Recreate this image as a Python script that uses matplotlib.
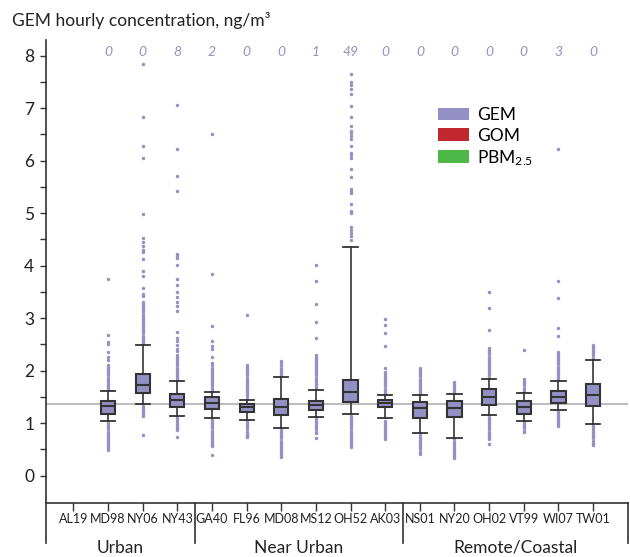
import matplotlib
matplotlib.use("Agg")
import matplotlib.pyplot as plt
from matplotlib.patches import Patch

plt.rcParams["font.family"] = ["Lato", "DejaVu Sans"]
plt.rcParams["mathtext.default"] = "regular"

stations = ["AL19", "MD98", "NY06", "NY43", "GA40", "FL96", "MD08", "MS12",
            "OH52", "AK03", "NS01", "NY20", "OH02", "VT99", "WI07", "TW01"]
groups = ["Urban", "Near Urban", "Remote/Coastal"]
group_sizes = [4, 6, 6]

# box statistics per station (AL19 has no data)
whislo = [None, 1.04, 1.37, 1.14, 1.10, 1.07, 0.90, 1.11, 1.17, 1.09, 0.81, 0.72, 1.16, 1.05, 1.25, 0.98]
q1 = [None, 1.18, 1.58, 1.31, 1.27, 1.21, 1.15, 1.25, 1.40, 1.31, 1.10, 1.12, 1.35, 1.18, 1.38, 1.32]
med = [None, 1.33, 1.72, 1.45, 1.38, 1.31, 1.31, 1.34, 1.60, 1.38, 1.28, 1.28, 1.50, 1.31, 1.50, 1.53]
q3 = [None, 1.43, 1.94, 1.56, 1.49, 1.37, 1.47, 1.42, 1.83, 1.45, 1.40, 1.42, 1.65, 1.43, 1.61, 1.75]
whishi = [None, 1.61, 2.49, 1.81, 1.60, 1.45, 1.88, 1.64, 4.36, 1.53, 1.53, 1.56, 1.84, 1.58, 1.81, 2.21]

# number of hourly values above the 8 ng/m3 plot limit
above_8 = [None, 0, 0, 8, 2, 0, 0, 1, 49, 0, 0, 0, 0, 0, 3, 0]

reference_level = 1.37

# outliers
out_MD98 = [3.75, 2.68, 2.55, 2.50, 2.36, 2.27, 2.20, 2.11, 2.07, 2.03, 1.99, 1.95, 1.91,
            1.87, 1.83, 1.79, 1.75, 1.71, 1.67, 1.63,
            1.00, 0.96, 0.92, 0.88, 0.84, 0.80, 0.76, 0.72, 0.68, 0.64, 0.60, 0.56, 0.52, 0.48]
out_NY06 = [7.85, 6.83, 6.28, 6.05, 4.98, 4.52, 4.46, 4.38, 4.29, 4.26, 4.12, 3.89, 3.80,
            3.58, 3.47, 3.42, 3.31, 3.27, 3.23, 3.19, 3.15, 3.11, 3.07, 3.03, 2.99, 2.95,
            2.91, 2.87, 2.83, 2.79, 2.75, 2.71, 2.67, 2.63, 2.59, 2.55, 2.52,
            1.33, 1.29, 1.25, 1.21, 1.17, 1.13, 0.78]
out_NY43 = [7.07, 6.22, 5.70, 5.42, 4.23, 4.18, 4.14, 4.01, 3.74, 3.63, 3.50, 3.40, 3.30,
            3.23, 3.14, 2.73, 2.63, 2.57, 2.49, 2.42, 2.37, 2.30, 2.26, 2.22, 2.18, 2.14,
            2.10, 2.06, 2.02, 1.98, 1.94, 1.90, 1.86, 1.83,
            1.10, 1.06, 1.02, 0.98, 0.94, 0.90, 0.87, 0.74]
out_GA40 = [6.50, 3.84, 2.85, 2.57, 2.48, 2.41, 2.26, 2.14, 2.10, 2.06, 2.02, 1.98, 1.94,
            1.90, 1.86, 1.82, 1.78, 1.74, 1.70, 1.66, 1.62,
            1.06, 1.02, 0.98, 0.94, 0.90, 0.86, 0.82, 0.78, 0.74, 0.70, 0.66, 0.62, 0.58,
            0.56, 0.39]
out_FL96 = [3.07, 2.11, 2.07, 2.03, 1.99, 1.95, 1.91, 1.87, 1.83, 1.79, 1.75, 1.71, 1.67,
            1.63, 1.59, 1.55, 1.51, 1.47,
            1.04, 1.00, 0.96, 0.92, 0.88, 0.84, 0.80, 0.76, 0.73]
out_MD08 = [2.18, 2.14, 2.10, 2.06, 2.02, 1.98, 1.94, 1.90,
            0.87, 0.83, 0.79, 0.75, 0.71, 0.67, 0.63, 0.59, 0.55, 0.51, 0.47, 0.43, 0.39, 0.36]
out_MS12 = [4.01, 3.70, 3.27, 2.92, 2.62, 2.30, 2.27, 2.23, 2.19, 2.15, 2.11, 2.07, 2.03,
            1.99, 1.95, 1.91, 1.87, 1.83, 1.79, 1.75, 1.71, 1.67,
            1.08, 1.04, 1.00, 0.96, 0.92, 0.88, 0.84, 0.81, 0.72]
out_OH52 = [7.65, 7.50, 7.44, 7.37, 7.28, 7.04, 6.84, 6.67, 6.57, 6.52, 6.47, 6.42, 6.29,
            6.14, 6.10, 6.06, 5.84, 5.69, 5.47, 5.43, 5.39, 5.18, 5.04, 5.00, 4.73, 4.68,
            4.62, 4.57, 4.49,
            1.14, 1.10, 1.06, 1.02, 0.98, 0.94, 0.90, 0.86, 0.82, 0.78, 0.74, 0.70, 0.66,
            0.62, 0.58, 0.55]
out_AK03 = [2.98, 2.87, 2.72, 2.47, 2.06, 1.98, 1.94, 1.90, 1.86, 1.82, 1.78, 1.74, 1.70,
            1.66, 1.62, 1.58, 1.55,
            1.05, 1.01, 0.97, 0.93, 0.89, 0.85, 0.81, 0.77, 0.73, 0.69]
out_NS01 = [2.05, 2.01, 1.97, 1.93, 1.89, 1.85, 1.81, 1.77, 1.73, 1.69, 1.65, 1.61, 1.57, 1.55,
            0.78, 0.74, 0.70, 0.66, 0.62, 0.58, 0.54, 0.50, 0.46, 0.42]
out_NY20 = [1.79, 1.75, 1.71, 1.67, 1.63, 1.59,
            0.69, 0.65, 0.61, 0.57, 0.53, 0.49, 0.45, 0.41, 0.37, 0.34]
out_OH02 = [3.49, 3.19, 2.78, 2.43, 2.39, 2.35, 2.31, 2.27, 2.23, 2.19, 2.15, 2.11, 2.07,
            2.03, 1.99, 1.95, 1.91, 1.87,
            1.12, 1.08, 1.04, 1.00, 0.96, 0.92, 0.88, 0.84, 0.80, 0.76, 0.72, 0.69, 0.60]
out_VT99 = [2.39, 1.84, 1.80, 1.76, 1.72, 1.68, 1.64, 1.60,
            1.02, 0.98, 0.94, 0.90, 0.86, 0.83]
out_WI07 = [6.22, 3.70, 3.38, 2.82, 2.66, 2.36, 2.32, 2.28, 2.24, 2.20, 2.16, 2.12, 2.08,
            2.04, 2.00, 1.96, 1.92, 1.88, 1.84,
            1.22, 1.18, 1.14, 1.10, 1.06, 1.02, 0.98, 0.94]
out_TW01 = [2.49, 2.45, 2.41, 2.37, 2.33, 2.29, 2.25,
            0.95, 0.91, 0.87, 0.83, 0.79, 0.75, 0.71, 0.67, 0.63, 0.59]

outliers = [None, out_MD98, out_NY06, out_NY43, out_GA40, out_FL96, out_MD08, out_MS12,
            out_OH52, out_AK03, out_NS01, out_NY20, out_OH02, out_VT99, out_WI07, out_TW01]

legend_labels = ["GEM", "GOM", "PBM$_{2.5}$"]
legend_colors = ["#9490c6", "#c1272d", "#4db848"]

GEM = "#9490c6"
DARK = "#333333"

fig = plt.figure(figsize=(6.3, 5.57), dpi=100)
ax = fig.add_axes([45.7 / 630, 1 - 503.3 / 557, 582 / 630, 463.3 / 557])

xmin, xmax = -0.8, 16.0
ymin, ymax = -0.526, 8.30
ax.set_xlim(xmin, xmax)
ax.set_ylim(ymin, ymax)

ax.axhline(reference_level, color="#bdbdbd", lw=1.5, zorder=1)

stats, pos = [], []
for i in range(len(stations)):
    if med[i] is None:
        continue
    stats.append(dict(whislo=whislo[i], q1=q1[i], med=med[i], q3=q3[i],
                      whishi=whishi[i], fliers=outliers[i]))
    pos.append(i)

ax.bxp(stats, positions=pos, widths=0.41, capwidths=0.41, patch_artist=True,
       manage_ticks=False,
       boxprops=dict(facecolor=GEM, edgecolor=DARK, linewidth=1.5, zorder=4),
       medianprops=dict(color=DARK, linewidth=1.5, zorder=5),
       whiskerprops=dict(color="#444444", linewidth=1.3, zorder=3),
       capprops=dict(color=DARK, linewidth=1.3, zorder=3),
       flierprops=dict(marker="o", markersize=2.5, markerfacecolor=GEM,
                       markeredgecolor="none", zorder=2))

for i, n in enumerate(above_8):
    if n is None:
        continue
    ax.text(i, 8.08, str(n), ha="center", va="center", style="italic",
            fontsize=10, color=GEM)

# axes styling
for s in ("top", "right"):
    ax.spines[s].set_visible(False)
for s in ("left", "bottom"):
    ax.spines[s].set_color(DARK)
    ax.spines[s].set_linewidth(1.2)

ax.set_yticks(range(0, 9))
ax.set_yticks([k + 0.5 for k in range(0, 8)], minor=True)
ax.tick_params(axis="y", which="both", length=4.3, width=1, color=DARK,
               labelsize=12.5, labelcolor="#222222", pad=4)
ax.set_xticks(range(len(stations)))
ax.set_xticklabels(stations)
ax.tick_params(axis="x", length=5.8, width=1, color=DARK, labelsize=9,
               labelcolor="#222222", pad=1.5)

# group brackets below the axis
y_br = -1.28
edges = [xmin]
c = 0
for n in group_sizes[:-1]:
    c += n
    edges.append(c - 0.5)
edges.append(xmax)
for e in edges:
    ax.plot([e, e], [ymin, y_br], color=DARK, lw=1.2, clip_on=False)
for g, a, b in zip(groups, edges[:-1], edges[1:]):
    ax.text((a + b) / 2, -1.377, g, ha="center", va="center", fontsize=12.5,
            color="#222222")

handles = [Patch(facecolor=col, edgecolor="none") for col in legend_colors]
ax.legend(handles, legend_labels, loc="upper left", bbox_to_anchor=(0.674, 0.855),
          frameon=False, fontsize=12.5, handlelength=1.79, handleheight=0.75,
          handletextpad=0.46, labelspacing=0.25, borderpad=0, borderaxespad=0)

fig.text(12 / 630, 1 - 26 / 557, "GEM hourly concentration, ng/m³", fontsize=12.5,
         va="baseline", color="#222222")

fig.savefig("out.png", dpi=100)
